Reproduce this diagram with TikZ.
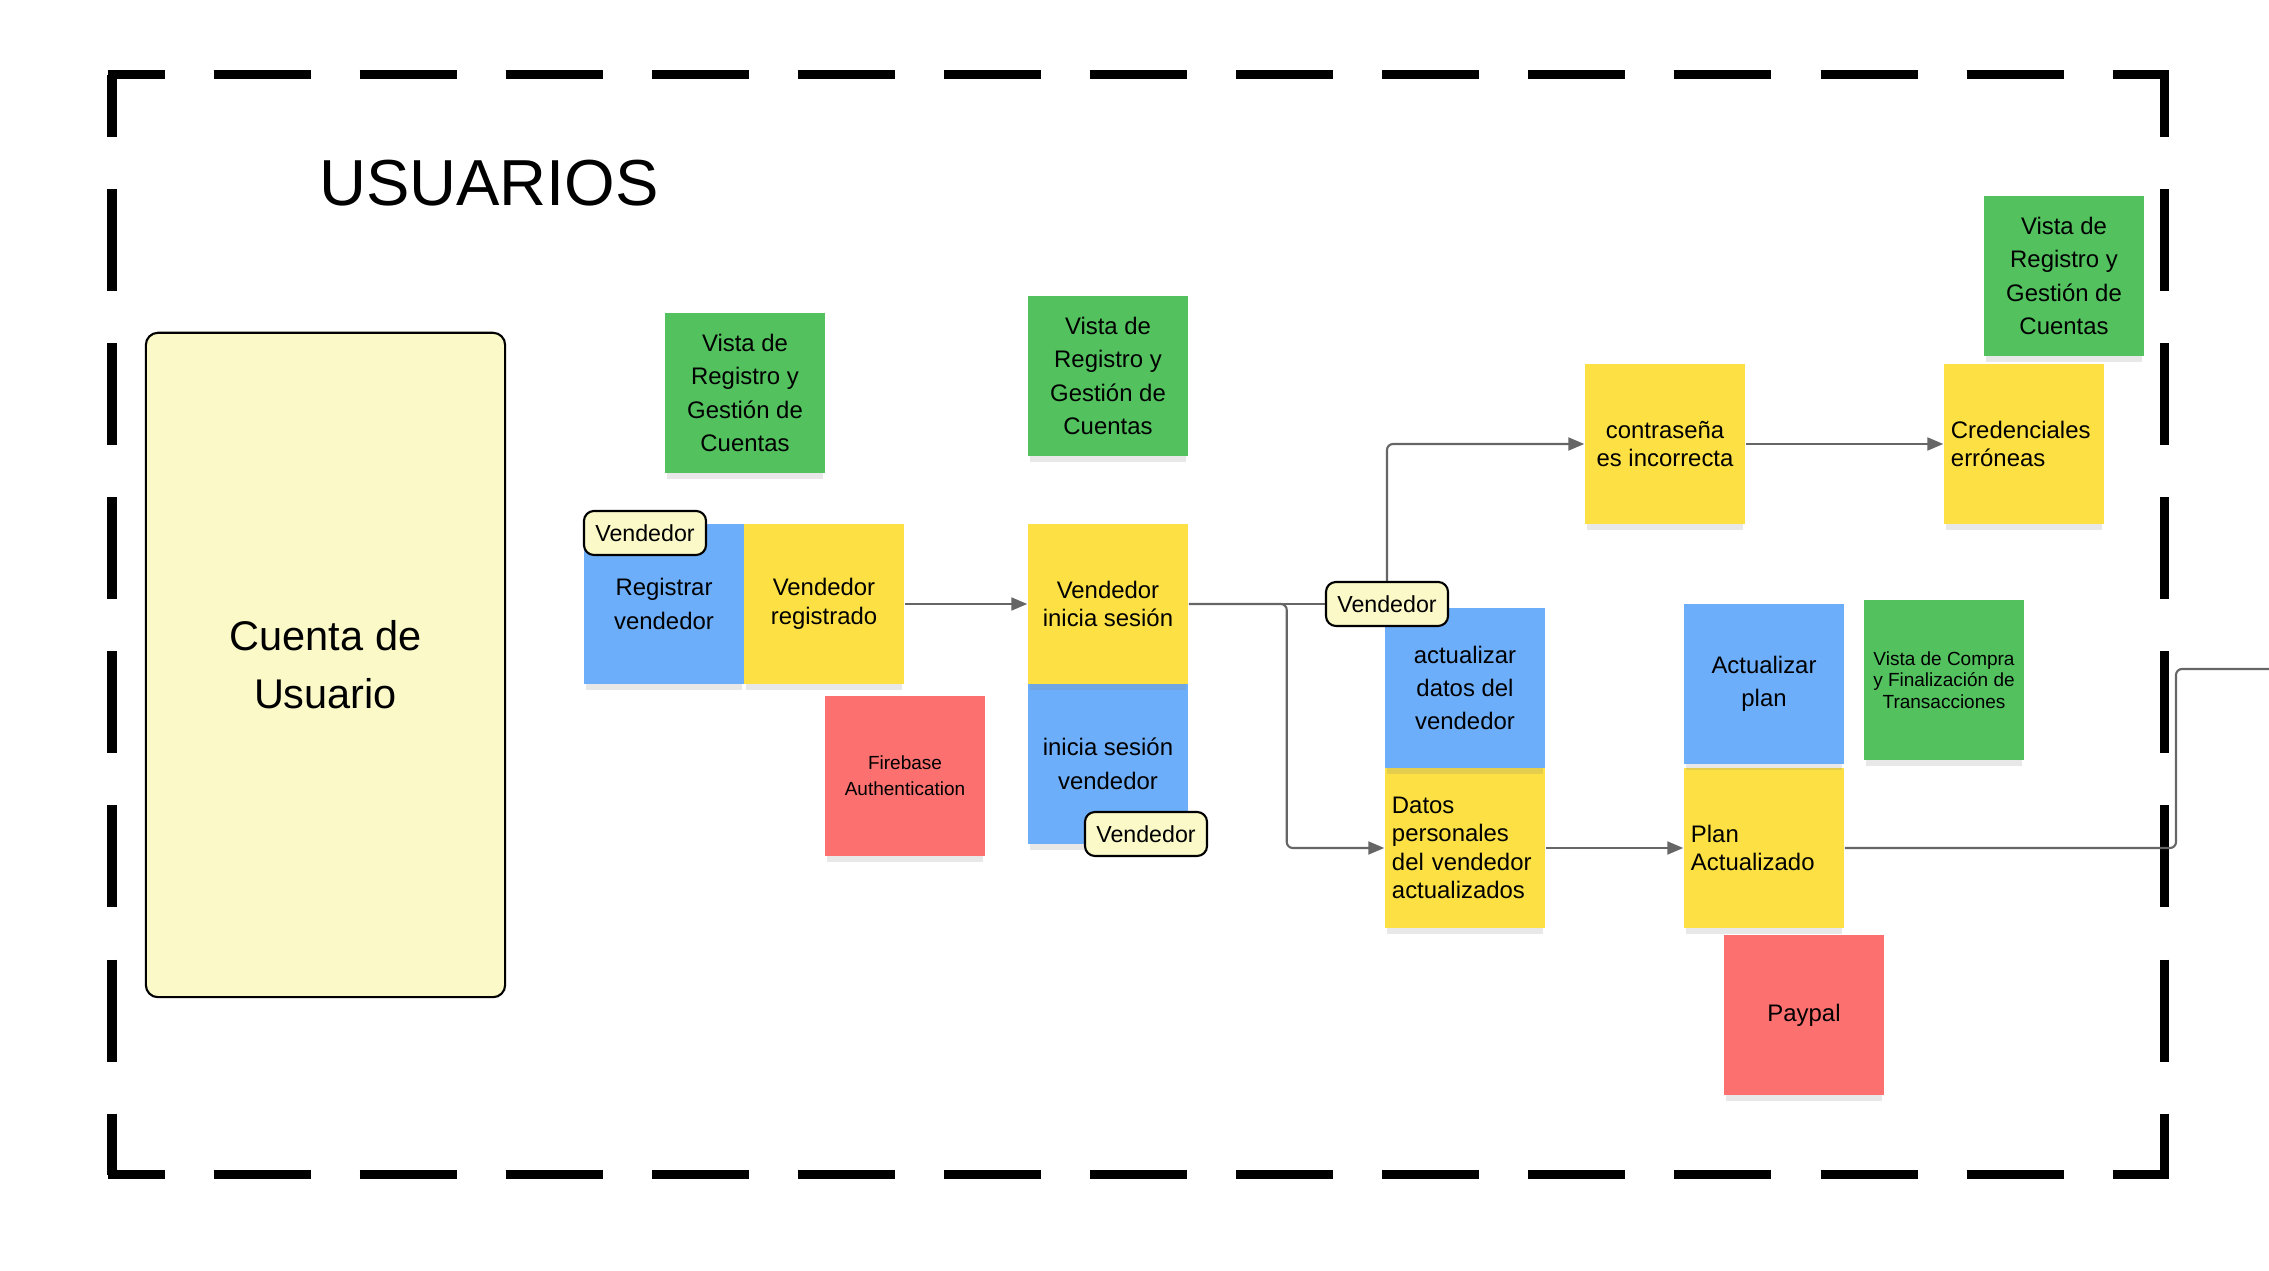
\documentclass[tikz,border=0pt]{standalone}
\usepackage{fontspec}
\setmainfont{Liberation Sans}
\usetikzlibrary{arrows.meta, positioning, shadows, calc}
\definecolor{notegreen}{HTML}{52C15E}
\definecolor{noteblue}{HTML}{6DAEFA}
\definecolor{noteyellow}{HTML}{FCE044}
\definecolor{notered}{HTML}{FC7170}
\definecolor{paleyellow}{HTML}{FBF9C8}
\definecolor{linkgray}{HTML}{666666}

\begin{document}
\begin{tikzpicture}[x=0.01cm, y=-0.01cm,
    sticky/.style={rectangle, fill=#1, minimum width=1.6cm, minimum height=1.6cm, inner sep=0pt, align=center, font=\fontsize{6.8}{9.5}\selectfont, drop shadow={opacity=0.18, shadow xshift=0cm, shadow yshift=-0.09cm, shadow scale=0.97}},
    stickyleft/.style={sticky=noteyellow, text width=1.46cm, align=left, font=\fontsize{6.8}{8.1}\selectfont},
    small/.style={font=\fontsize{5.4}{#1}\selectfont},
    role/.style={rectangle, rounded corners=0.1cm, draw=black, line width=0.6pt, fill=paleyellow, minimum width=1.22cm, minimum height=0.44cm, inner sep=0pt, font=\fontsize{6.6}{8}\selectfont},
    link/.style={draw=linkgray, line width=0.6pt, rounded corners=0.06cm},
    arrow/.style={link, -{Triangle[length=0.16cm, width=0.13cm]}},
    frame/.style={line width=0.09cm, black}
]
\useasboundingbox (0,0) rectangle (2269,1271);

% Dashed frame
\draw[frame, dash pattern=on 0.97cm off 0.49cm, dash phase=0.40cm] (107.5,75) -- (2168.5,75);
\draw[frame, dash pattern=on 0.97cm off 0.49cm, dash phase=0.40cm] (107.5,1175) -- (2168.5,1175);
\draw[frame, dash pattern=on 1.02cm off 0.52cm, dash phase=0.40cm] (112,75) -- (112,1175);
\draw[frame, dash pattern=on 1.02cm off 0.52cm, dash phase=0.40cm] (2164,75) -- (2164,1175);

\node[anchor=base, font=\fontsize{18.5}{22}\selectfont] (titulo) at (489,206) {USUARIOS};

% Account box
\node[rectangle, rounded corners=0.12cm, draw=black, line width=0.6pt, fill=paleyellow, minimum width=3.59cm, minimum height=6.64cm, align=center, font=\fontsize{11.8}{16.4}\selectfont] (cuenta) at (325.5,665) {Cuenta de\\Usuario};

% Registration
\node[sticky=notegreen] (vista1) at (745,393) {Vista de\\Registro y\\Gestión de\\Cuentas};
\node[sticky=noteblue] (registrar) at (664,604) {Registrar\\vendedor};
\node[sticky=noteyellow, font=\fontsize{6.8}{8.1}\selectfont] (registrado) at (824,604) {Vendedor\\registrado};
\node[role] (rol1) at (645,533) {Vendedor};
\node[sticky=notered, small=7.3] (firebase) at (905,776) {Firebase\\Authentication};

% Login
\node[sticky=notegreen] (vista2) at (1108,376) {Vista de\\Registro y\\Gestión de\\Cuentas};
\node[sticky=noteblue] (iniciar) at (1108,764) {inicia sesión\\vendedor};
\node[sticky=noteyellow, font=\fontsize{6.8}{8.1}\selectfont] (sesion) at (1108,604) {Vendedor\\inicia sesión};
\node[role] (rol2) at (1146,834) {Vendedor};

% Wrong password
\node[sticky=noteyellow, font=\fontsize{6.8}{8.1}\selectfont] (clave) at (1665,444) {contraseña\\es incorrecta};
\node[stickyleft] (erroneas) at (2024,444) {Credenciales\\erróneas};
\node[sticky=notegreen] (vista4) at (2064,276) {Vista de\\Registro y\\Gestión de\\Cuentas};

% Update data and plan
\node[stickyleft] (datos) at (1465,848) {Datos\\personales\\del vendedor\\actualizados};
\node[sticky=noteblue] (actualizar) at (1465,688) {actualizar\\datos del\\vendedor};
\node[stickyleft] (plan) at (1764,848) {Plan\\Actualizado};
\node[sticky=noteblue] (cambiar) at (1764,684) {Actualizar\\plan};
\node[sticky=notegreen, small=6.1] (vista3) at (1944,680) {Vista de Compra\\y Finalización de\\Transacciones};
\node[sticky=notered] (paypal) at (1804,1015) {Paypal};

\node[role] (rol3) at (1387,604) {Vendedor};

% Links
\coordinate (salida) at (2269,669);
\draw[arrow] (registrado) -- (sesion);
\draw[arrow] (sesion.east) -- ++(98,0) |- (datos.west);
\draw[link] (sesion.east) -- (rol3.west);
\draw[arrow] (rol3.north) |- (clave.west);
\draw[arrow] (clave) -- (erroneas);
\draw[arrow] (datos) -- (plan);
\draw[link] (plan.east) -| ($(salida)+(-93,0)$) -- (salida);

\end{tikzpicture}
\end{document}
